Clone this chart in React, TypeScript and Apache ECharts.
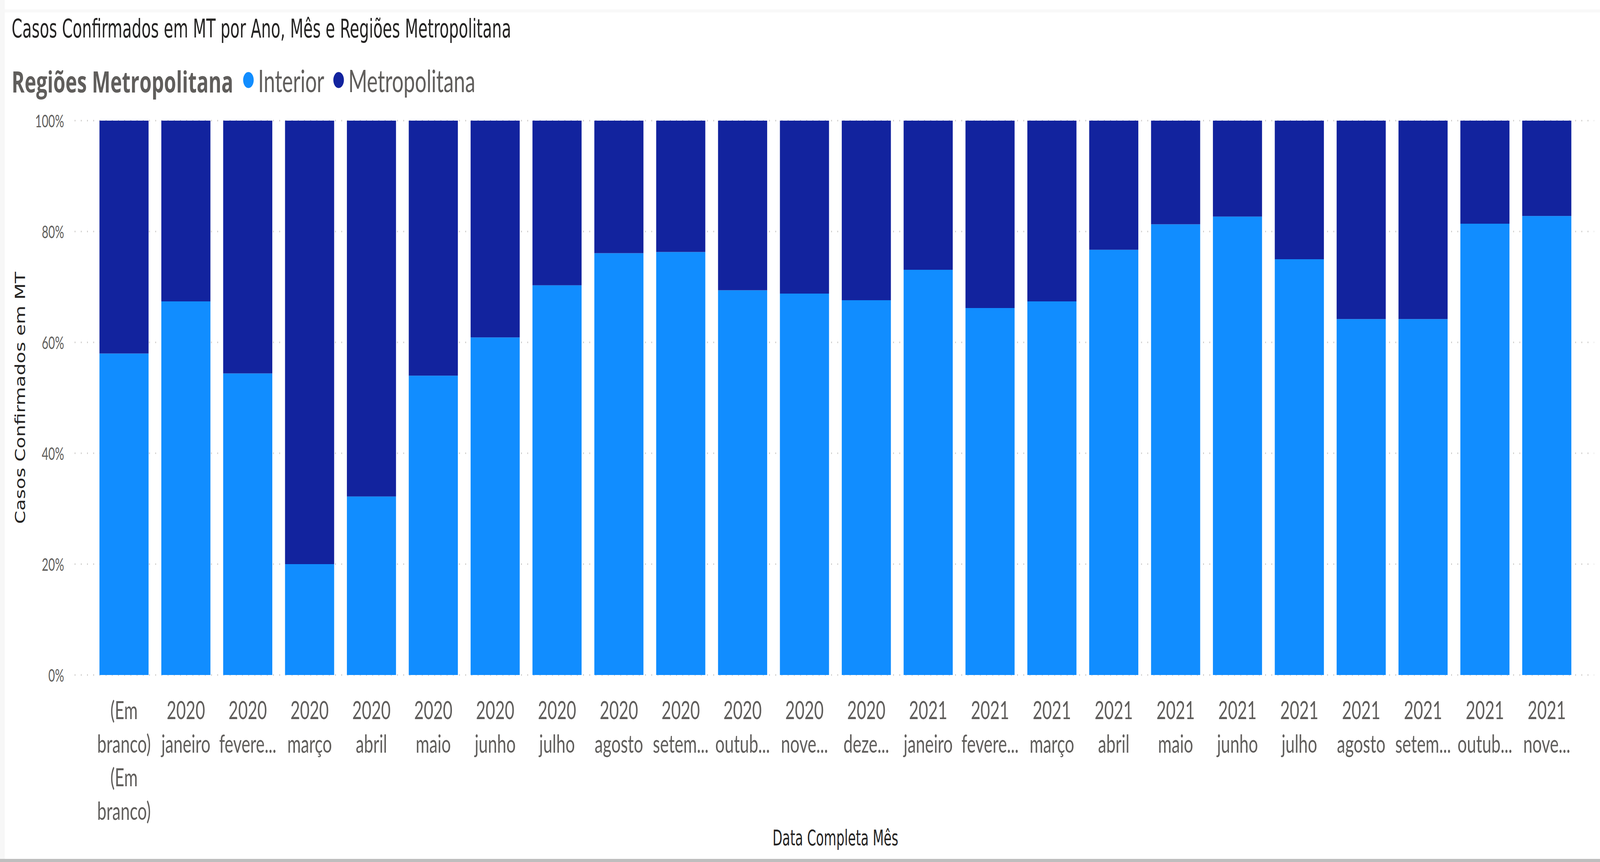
import React, { useEffect, useRef } from "react";
import * as echarts from "echarts";

const categories = [
  "(Em branco) (Em branco)",
  "2020 janeiro", "2020 fevereiro", "2020 março", "2020 abril", "2020 maio", "2020 junho",
  "2020 julho", "2020 agosto", "2020 setembro", "2020 outubro", "2020 novembro", "2020 dezembro",
  "2021 janeiro", "2021 fevereiro", "2021 março", "2021 abril", "2021 maio", "2021 junho",
  "2021 julho", "2021 agosto", "2021 setembro", "2021 outubro", "2021 novembro",
];

const xTickLabels = [
  "(Em\nbranco)\n(Em\nbranco)",
  "2020\njaneiro", "2020\nfevere...", "2020\nmarço", "2020\nabril", "2020\nmaio", "2020\njunho",
  "2020\njulho", "2020\nagosto", "2020\nsetem...", "2020\noutub...", "2020\nnove...", "2020\ndeze...",
  "2021\njaneiro", "2021\nfevere...", "2021\nmarço", "2021\nabril", "2021\nmaio", "2021\njunho",
  "2021\njulho", "2021\nagosto", "2021\nsetem...", "2021\noutub...", "2021\nnove...",
];

const interior = [
  58.0, 67.4, 54.4, 20.0, 32.2, 54.0, 60.9, 70.3, 76.1, 76.3, 69.4, 68.8,
  67.6, 73.1, 66.2, 67.4, 76.7, 81.3, 82.7, 75.0, 64.2, 64.2, 81.4, 82.8,
];

const metropolitana = [
  42.0, 32.6, 45.6, 80.0, 67.8, 46.0, 39.1, 29.7, 23.9, 23.7, 30.6, 31.2,
  32.4, 26.9, 33.8, 32.6, 23.3, 18.7, 17.3, 25.0, 35.8, 35.8, 18.6, 17.2,
];

const seriesNames = ["Interior", "Metropolitana"];
const seriesColors = ["#118DFF", "#12239E"];

const titleText = "Casos Confirmados em MT por Ano, Mês e Regiões Metropolitana";
const legendTitle = "Regiões Metropolitana";
const yAxisTitle = "Casos Confirmados em MT";
const xAxisTitle = "Data Completa Mês";

const W = 6193;
const H = 2208;

const DIN = "'DIN', 'DejaVu Sans Condensed', 'DejaVu Sans', sans-serif";
const SEGOE = "'Segoe UI', Lato, sans-serif";

export default function App() {
  const ref = useRef<HTMLDivElement>(null);

  useEffect(() => {
    document.body.style.margin = "0";
    document.body.style.overflow = "hidden";
    const el = ref.current;
    if (!el) return;
    const vw = document.documentElement.clientWidth || window.innerWidth || W;
    const vh = window.innerHeight || H;
    const sx = Math.min(1, vw / W);
    const sy = Math.min(1, vh / H);
    el.style.transform = `scale(${sx}, ${sy})`;

    const chart = echarts.init(el, null, { renderer: "svg", width: W, height: H });

    const top = 309;
    const bottom = H - 1729;

    chart.setOption({
      animation: false,
      backgroundColor: "#FFFFFF",
      title: {
        text: titleText,
        left: 45,
        top: 33,
        padding: 0,
        textStyle: {
          fontFamily: DIN,
          fontSize: 66,
          fontWeight: "normal",
          color: "#252423",
          lineHeight: 80,
        },
      },
      legend: {
        data: seriesNames,
        icon: "circle",
        left: 941,
        top: 160,
        padding: 0,
        itemWidth: 41,
        itemHeight: 41,
        itemGap: 35,
        textStyle: {
          fontFamily: SEGOE,
          fontSize: 79,
          color: "#605E5C",
          lineHeight: 90,
          padding: [0, 0, 0, 12],
        },
      },
      graphic: [
        {
          type: "text",
          left: 45,
          top: 208 - 50,
          style: {
            text: legendTitle,
            fontFamily: "'Segoe UI', 'Open Sans', sans-serif",
            fontWeight: "bold",
            fontSize: 76,
            lineHeight: 100,
            fill: "#605E5C",
          },
        },
        {
          type: "rect",
          shape: { x: 18, y: 24, width: W - 18, height: 8 },
          style: { fill: "#F8F8F8" },
        },
        {
          type: "rect",
          shape: { x: 0, y: 2200, width: W, height: 8 },
          style: { fill: "#BEBEBE" },
        },
        {
          type: "rect",
          shape: { x: 0, y: 0, width: 18, height: 2200 },
          style: { fill: "#F7F7F7" },
        },
      ],
      grid: [
        { left: 289, right: 23, top, bottom, outerBoundsMode: "none" },
        { left: 360.3, right: 86.3, top, bottom, outerBoundsMode: "none" },
      ],
      xAxis: [
        {
          gridIndex: 0,
          type: "category",
          data: categories,
          show: false,
        },
        {
          gridIndex: 1,
          type: "category",
          data: categories,
          axisLine: { show: false },
          axisTick: { show: false },
          axisLabel: {
            interval: 0,
            hideOverlap: false,
            margin: 45,
            fontFamily: SEGOE,
            fontSize: 64,
            lineHeight: 86,
            color: "#605E5C",
            align: "center",
            formatter: (_v: string, i: number) => xTickLabels[i],
          },
          name: xAxisTitle,
          nameLocation: "middle",
          nameGap: 390,
          nameMoveOverlap: false,
          nameTextStyle: {
            fontFamily: DIN,
            fontSize: 55,
            color: "#252423",
          },
        },
      ],
      yAxis: [
        {
          gridIndex: 0,
          type: "value",
          min: 0,
          max: 100,
          interval: 20,
          axisLine: { show: false },
          axisTick: { show: false },
          axisLabel: {
            margin: 41,
            fontFamily: SEGOE,
            fontSize: 44,
            color: "#605E5C",
            formatter: (v: number) => `${v}%`,
          },
          splitLine: {
            show: true,
            lineStyle: { color: "#C8C6C4", width: 4, type: [3, 21] },
          },
          name: yAxisTitle,
          nameLocation: "middle",
          nameGap: 184,
          nameMoveOverlap: false,
          nameTextStyle: {
            fontFamily: DIN,
            fontSize: 54,
            color: "#252423",
          },
        },
        {
          gridIndex: 1,
          type: "value",
          min: 0,
          max: 100,
          interval: 20,
          show: false,
          splitLine: { show: false },
        },
      ],
      series: [
        {
          name: seriesNames[0],
          type: "bar",
          xAxisIndex: 1,
          yAxisIndex: 1,
          stack: "total",
          barCategoryGap: "20.6%",
          itemStyle: { color: seriesColors[0] },
          data: interior,
        },
        {
          name: seriesNames[1],
          type: "bar",
          xAxisIndex: 1,
          yAxisIndex: 1,
          stack: "total",
          barCategoryGap: "20.6%",
          itemStyle: { color: seriesColors[1] },
          data: metropolitana,
        },
      ],
    });

    return () => chart.dispose();
  }, []);

  return (
    <div
      ref={ref}
      style={{ position: "fixed", left: 0, top: 0, width: W, height: H, transformOrigin: "0 0" }}
    />
  );
}
